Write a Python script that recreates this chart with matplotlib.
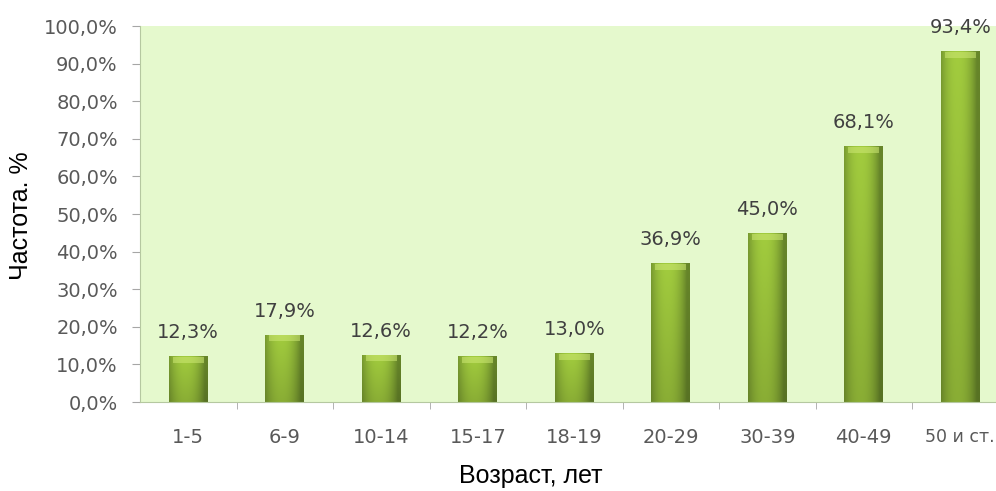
import numpy as np
import matplotlib
matplotlib.use("Agg")
import matplotlib.pyplot as plt
from matplotlib.colors import to_rgb
from matplotlib.patches import Rectangle

# --- данные ---
categories = ["1-5", "6-9", "10-14", "15-17", "18-19", "20-29", "30-39", "40-49", "50 и ст."]
values = [12.3, 17.9, 12.6, 12.2, 13.0, 36.9, 45.0, 68.1, 93.4]
y_ticks = [0, 10, 20, 30, 40, 50, 60, 70, 80, 90, 100]

BG = "#e5f9cd"
EDGE = to_rgb("#67862a")
MID = to_rgb("#a2cc3e")
CAP = "#cde874"
TEXT_GRAY = "#595959"

fig = plt.figure(figsize=(9.96, 4.91), dpi=100)
ax = fig.add_axes([140 / 996, 89 / 491, 1 - 140 / 996, 376 / 491])
ax.set_facecolor(BG)

x = np.arange(len(categories))
width = 0.40
bars = ax.bar(x, values, width=width, color="none", edgecolor="none", zorder=2)

# градиент "цилиндра": темные края, светлая середина
prof = np.linspace(-1, 1, 64)
shade = np.clip(1 - np.abs(prof + 0.15) ** 2.2, 0, 1)
vert = np.linspace(0.85, 1.0, 50)[:, None]
img = np.zeros((50, 64, 3))
for c in range(3):
    img[:, :, c] = (EDGE[c] + (MID[c] - EDGE[c]) * shade)[None, :] * vert

for rect, v in zip(bars, values):
    x0 = rect.get_x()
    w = rect.get_width()
    im = ax.imshow(img, extent=[x0, x0 + w, 0, v], aspect="auto",
                   origin="lower", zorder=2, interpolation="bilinear")
    im.set_clip_path(rect)
    ax.add_patch(Rectangle((x0 + w * 0.1, v - 1.8), w * 0.8, 1.6,
                           color=CAP, alpha=0.55, lw=0, zorder=3))
    ax.annotate(f"{v:.1f}%".replace(".", ","), (x0 + w / 2, v),
                xytext=(0, 17), textcoords="offset points",
                ha="center", va="center", fontsize=14, color="#404040")

# шаг категорий ~96.5 px, правый край обрезан как в оригинале
ax.set_xlim(-0.5, -0.5 + (996 - 140) / 96.5)
ax.set_ylim(0, 100)

ax.set_yticks(y_ticks)
ax.set_yticklabels([f"{t:.1f}%".replace(".", ",") for t in y_ticks])
ax.set_xticks(x)
ax.set_xticklabels(categories)
ax.set_xticks(np.arange(0.5, len(categories) - 0.5, 1), minor=True)

ax.tick_params(axis="y", length=6, color="#a6a6a6", labelsize=14,
               labelcolor=TEXT_GRAY, pad=10)
ax.tick_params(axis="x", which="major", length=0, labelsize=14,
               labelcolor=TEXT_GRAY, pad=19)
ax.tick_params(axis="x", which="minor", length=5, color="#a6a6a6")
ax.get_xticklabels()[-1].set_fontsize(12.5)

for s in ["top", "right"]:
    ax.spines[s].set_visible(False)
for s in ["left", "bottom"]:
    ax.spines[s].set_color("#b5c8a0")

fig.text(21 / 996, 1 - 216 / 491, "Частота. %", rotation=90,
         ha="center", va="center", fontsize=18, family="Liberation Sans")
fig.text(531 / 996, 1 - 476 / 491, "Возраст, лет",
         ha="center", va="center", fontsize=18, family="Liberation Sans")

fig.savefig("out.png", dpi=100)
